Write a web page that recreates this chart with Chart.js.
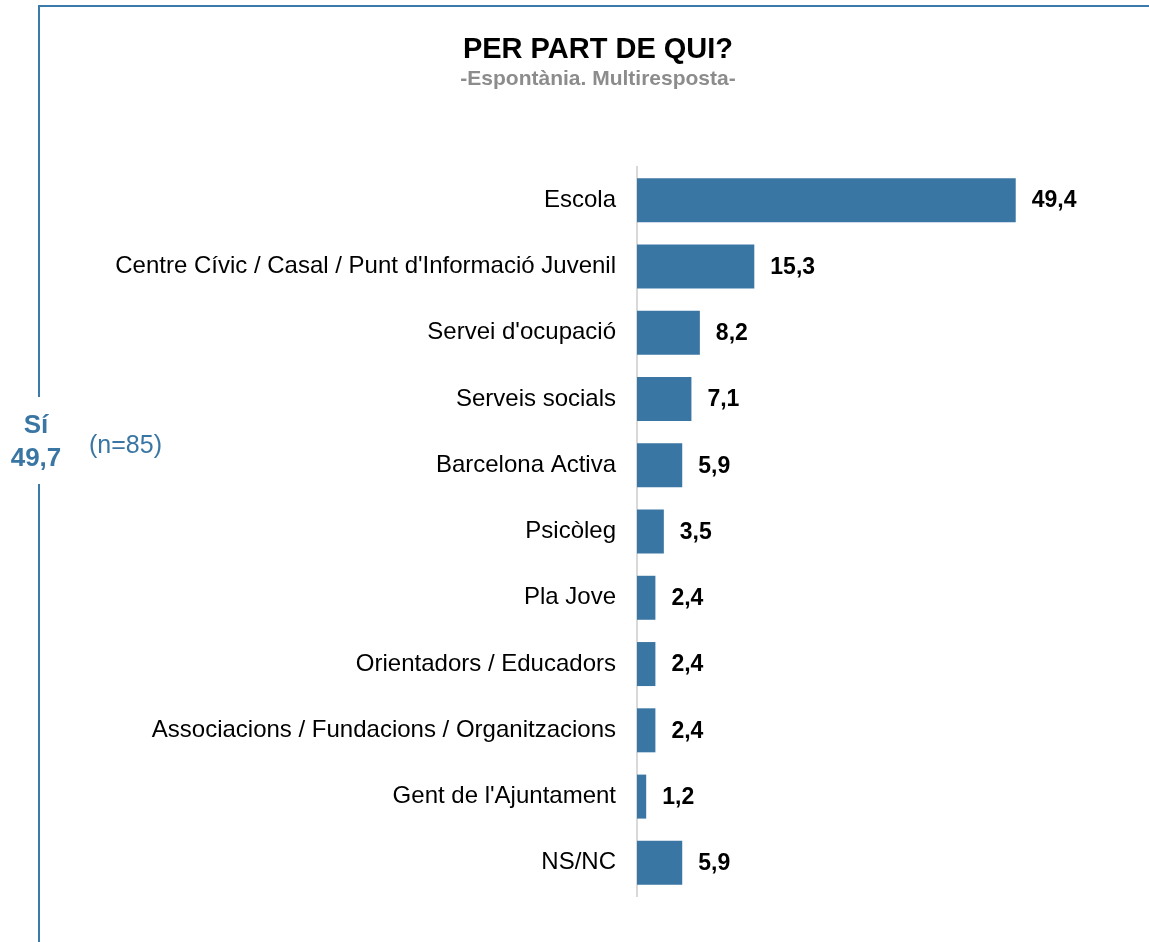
<!DOCTYPE html>
<html>
<head>
<meta charset="utf-8">
<script src="https://cdn.jsdelivr.net/npm/chart.js@4.4.1/dist/chart.umd.min.js"></script>
<style>
  body { margin: 0; background: #fff; font-family: "Liberation Sans", Arial, sans-serif; }
  #wrap { position: relative; width: 1149px; height: 942px; overflow: hidden; }
  #chart { position: absolute; left: 0; top: 0; }
  .line { position: absolute; background: #3b7bab; }
  .txt { position: absolute; white-space: nowrap; }
</style>
</head>
<body>
<div id="wrap">
  <canvas id="chart" width="1149" height="942"></canvas>
  <div class="line" style="left:38px; top:5px; width:1111px; height:2px;"></div>
  <div class="line" style="left:38px; top:5px; width:2px; height:392px;"></div>
  <div class="line" style="left:38px; top:484px; width:2px; height:458px;"></div>
  <div class="txt" style="left:0; top:30px; width:1196px; text-align:center; font-weight:bold; font-size:29px; line-height:36px; color:#000;">PER PART DE QUI?</div>
  <div class="txt" style="left:0; top:65px; width:1196px; text-align:center; font-weight:bold; font-size:21px; line-height:26px; color:#8c8c8c;">-Espontània. Multiresposta-</div>
  <div class="txt" style="left:0; top:408px; width:72px; text-align:center; font-weight:bold; font-size:26px; line-height:33px; color:#3a76a3;">Sí<br>49,7</div>
  <div class="txt" style="left:89px; top:429px; font-size:25px; line-height:30px; color:#3a76a3;">(n=85)</div>
</div>
<script>
// Data
const categories = [
    "Escola",
    "Centre Cívic / Casal / Punt d'Informació Juvenil",
    "Servei d'ocupació",
    "Serveis socials",
    "Barcelona Activa",
    "Psicòleg",
    "Pla Jove",
    "Orientadors / Educadors",
    "Associacions / Fundacions / Organitzacions",
    "Gent de l'Ajuntament",
    "NS/NC"
];
const values = [49.4, 15.3, 8.2, 7.1, 5.9, 3.5, 2.4, 2.4, 2.4, 1.2, 5.9];

// Value labels at the end of each bar
const valueLabels = {
    id: "valueLabels",
    afterDatasetsDraw(chart) {
        const ctx = chart.ctx;
        const meta = chart.getDatasetMeta(0);
        ctx.save();
        ctx.font = "bold 23px 'Liberation Sans', Arial, sans-serif";
        ctx.fillStyle = "#000";
        ctx.textAlign = "left";
        ctx.textBaseline = "middle";
        meta.data.forEach((bar, i) => {
            ctx.fillText(values[i].toFixed(1).replace(".", ","), bar.x + 16, bar.y + 1);
        });
        ctx.restore();
    }
};

new Chart(document.getElementById("chart"), {
    type: "bar",
    data: {
        labels: categories,
        datasets: [{
            data: values,
            backgroundColor: "#3a76a3",
            borderWidth: 0,
            barPercentage: 0.664,
            categoryPercentage: 1
        }]
    },
    options: {
        indexAxis: "y",
        responsive: false,
        animation: false,
        layout: { padding: { top: 167, bottom: 46, left: 0, right: 52 } },
        plugins: {
            legend: { display: false },
            tooltip: { enabled: false }
        },
        scales: {
            x: { display: false, min: 0, max: 60 },
            y: {
                grid: { display: false, drawTicks: false },
                border: { display: true, color: "#d9d9d9", width: 2 },
                ticks: {
                    color: "#000",
                    padding: 21,
                    font: { family: "'Liberation Sans', Arial, sans-serif", size: 24 }
                },
                afterFit(scale) { scale.width = 637; }
            }
        }
    },
    plugins: [valueLabels]
});
</script>
</body>
</html>
